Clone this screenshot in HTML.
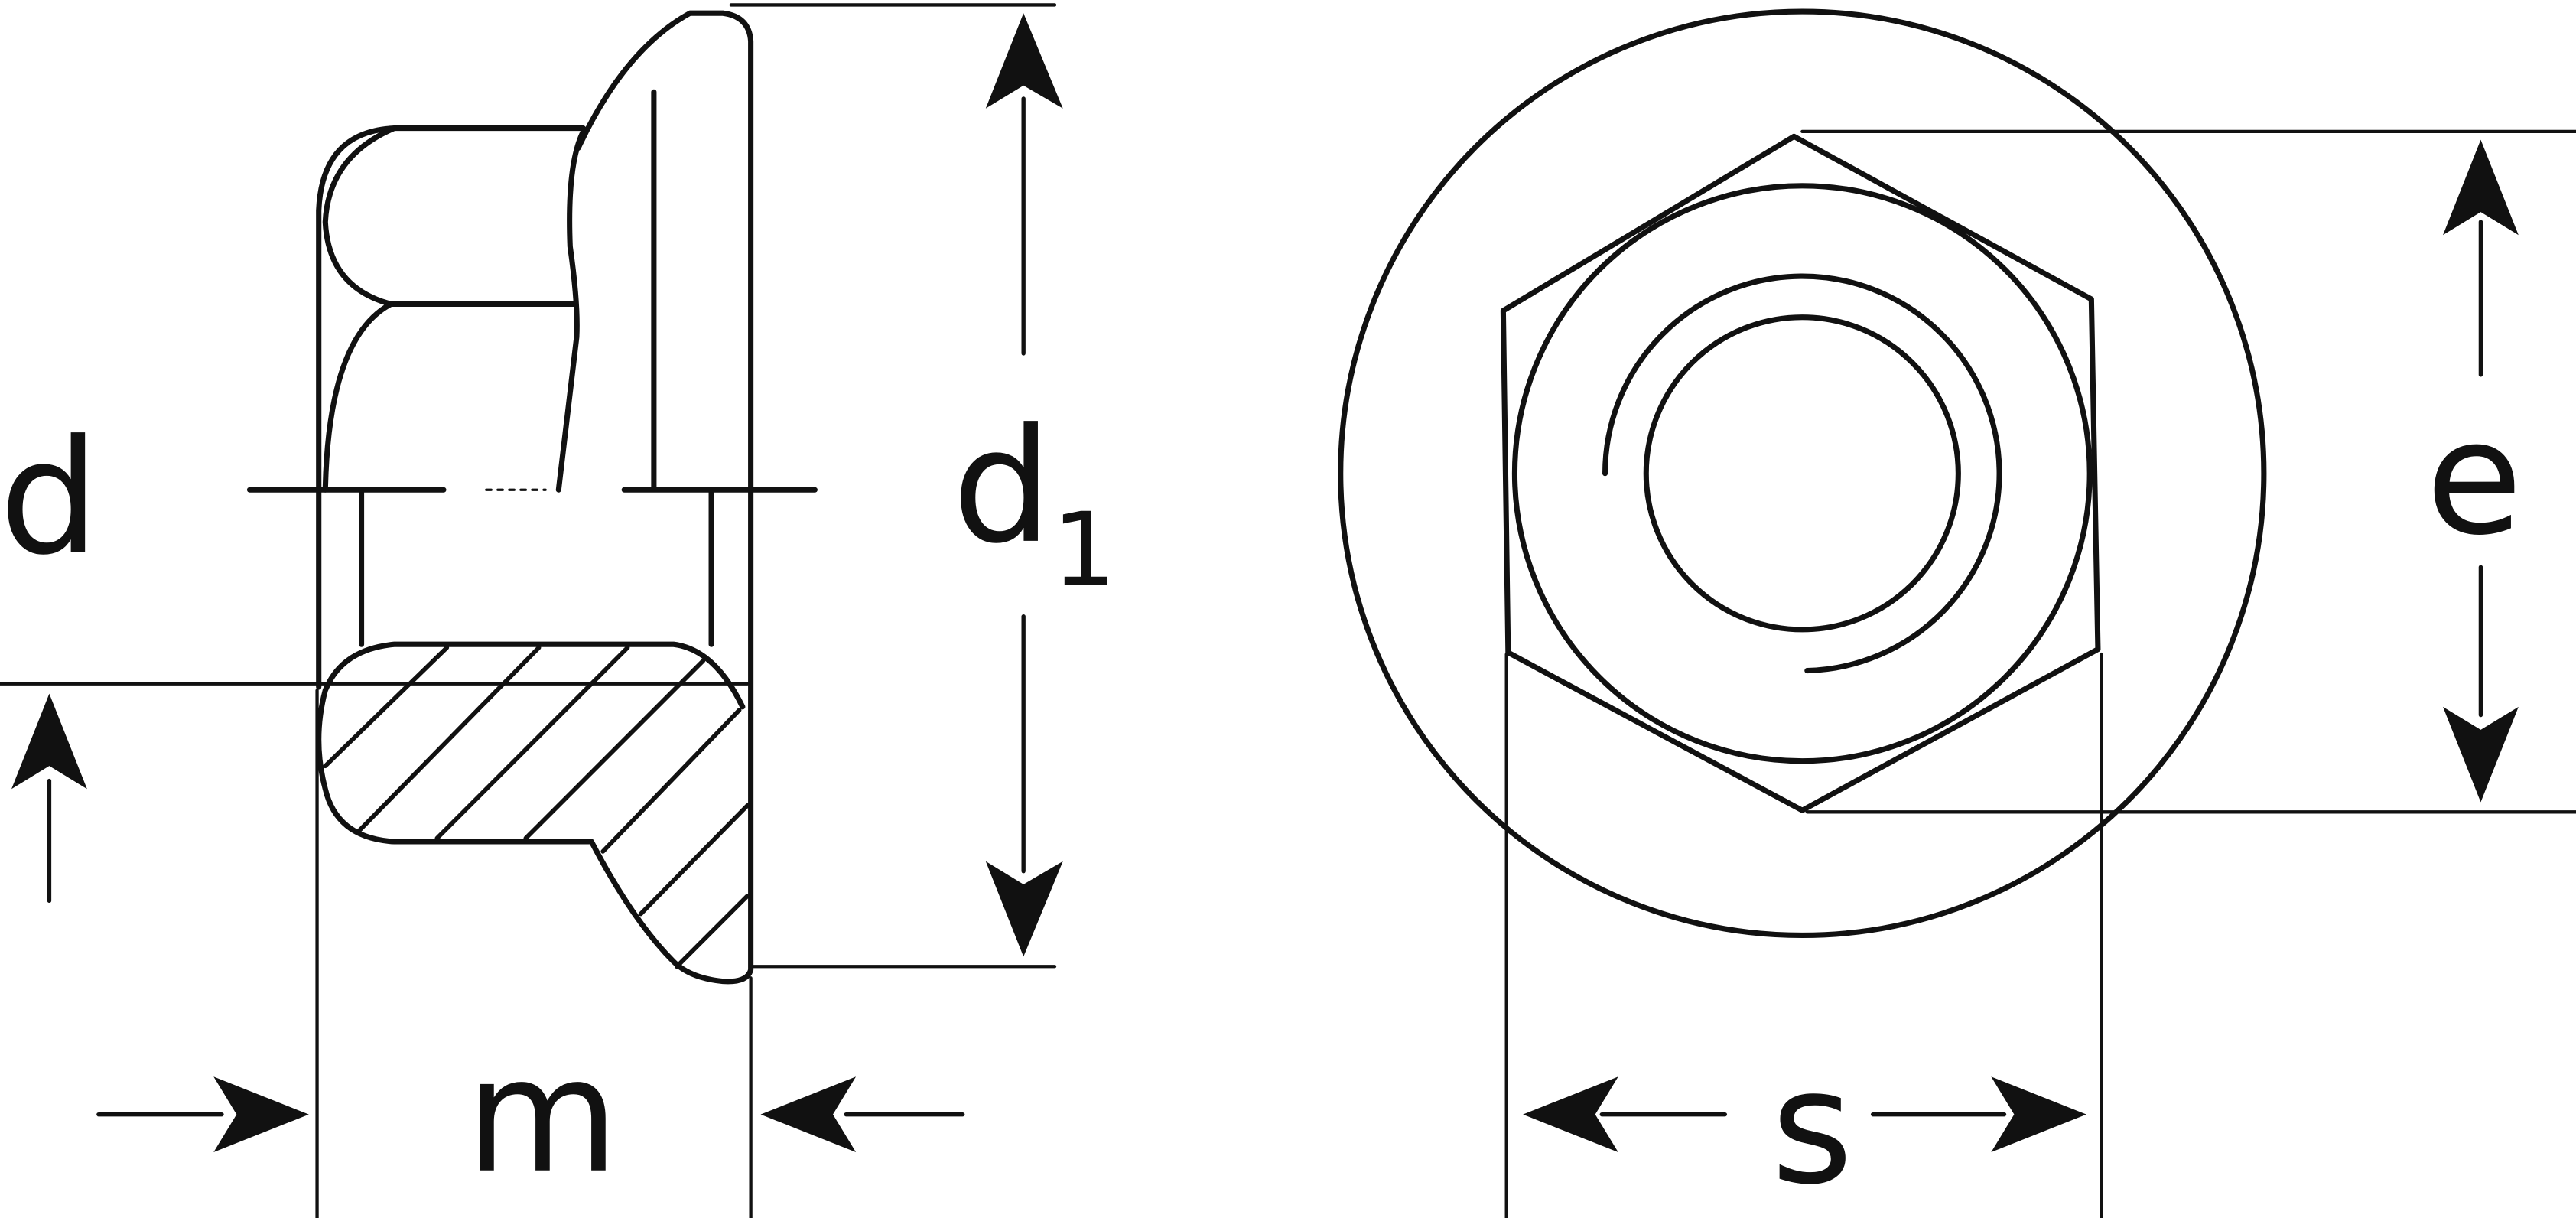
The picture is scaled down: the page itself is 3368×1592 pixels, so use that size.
<!DOCTYPE html>
<html><head><meta charset="utf-8"><style>html,body{margin:0;padding:0;background:#fff}svg{display:block}</style></head>
<body>
<svg width="3368" height="1592" viewBox="0 0 1568 741" preserveAspectRatio="none" xmlns="http://www.w3.org/2000/svg">
<g fill="none" stroke="#111" stroke-width="3.3" stroke-linejoin="round" stroke-linecap="round">
<path d="M355,78 L240,78 Q196,80 194,128 L194,418"/>
<path d="M240,78 Q200,95 198,135 Q200,175 238,185 L350,185"/>
<path d="M238,185 Q200,205 198,298"/>
<path d="M355,80 Q345,100 347,150 Q352,185 351,205 L340,298"/>
<path d="M352,90 Q380,30 420,8 L440,8 Q456,10 457,25 L457,590 Q455,598 440,597 Q420,595 410,585 Q385,560 360,512 L240,512 Q205,510 198,480 Q190,450 198,420 Q208,395 240,392 L410,392 Q435,395 452,430"/>
<line x1="398" y1="56" x2="398" y2="297"/>
<line x1="220" y1="298" x2="220" y2="392"/>
<line x1="433" y1="298" x2="433" y2="392"/>
<line x1="152" y1="298" x2="270" y2="298"/>
<line x1="380" y1="298" x2="496" y2="298"/>
<line x1="296" y1="298" x2="332" y2="298" stroke-width="1.5" stroke-dasharray="3 4"/>
<g stroke-width="2.7">
<line x1="272" y1="394" x2="198" y2="466"/>
<line x1="328" y1="394" x2="218" y2="506"/>
<line x1="382" y1="394" x2="266" y2="510"/>
<line x1="428" y1="402" x2="320" y2="510"/>
<line x1="450" y1="432" x2="367" y2="518"/>
<line x1="455" y1="490" x2="390" y2="556"/>
<line x1="455" y1="545" x2="412" y2="588"/>
</g>
<line x1="445" y1="3" x2="642" y2="3" stroke-width="2"/>
<line x1="458" y1="588" x2="642" y2="588" stroke-width="2"/>
<line x1="623" y1="60" x2="623" y2="215" stroke-width="2.5"/>
<line x1="623" y1="375" x2="623" y2="530" stroke-width="2.5"/>
<line x1="0" y1="416" x2="455" y2="416" stroke-width="2"/>
<line x1="30" y1="475" x2="30" y2="548" stroke-width="2.5"/>
<line x1="193" y1="420" x2="193" y2="741" stroke-width="2"/>
<line x1="457" y1="595" x2="457" y2="741" stroke-width="2"/>
<line x1="60" y1="678" x2="135" y2="678" stroke-width="2.5"/>
<line x1="515" y1="678" x2="586" y2="678" stroke-width="2.5"/>
<circle cx="1097" cy="288" r="281"/>
<path d="M1092,83 L1273,182 L1277,395 L1097,493 L918,397 L915,189 Z"/>
<circle cx="1097" cy="288" r="175"/>
<circle cx="1097" cy="288" r="95"/>
<path d="M977,288 A120,120 0 1 1 1100,408"/>
<line x1="1097" y1="80" x2="1568" y2="80" stroke-width="2"/>
<line x1="1100" y1="494" x2="1568" y2="494" stroke-width="2"/>
<line x1="1510" y1="135" x2="1510" y2="228" stroke-width="2.5"/>
<line x1="1510" y1="345" x2="1510" y2="435" stroke-width="2.5"/>
<line x1="917" y1="398" x2="917" y2="741" stroke-width="2"/>
<line x1="1279" y1="398" x2="1279" y2="741" stroke-width="2"/>
<line x1="975" y1="678" x2="1050" y2="678" stroke-width="2.5"/>
<line x1="1140" y1="678" x2="1220" y2="678" stroke-width="2.5"/>
</g>
<g fill="#111">
<path d="M623,8 L600,66 L623,52 L647,66 Z"/>
<path d="M623,582 L600,524 L623,538 L647,524 Z"/>
<path d="M30,422 L7,480 L30,466 L53,480 Z"/>
<path d="M188,678 L130,655 L144,678 L130,701 Z"/>
<path d="M463,678 L521,655 L507,678 L521,701 Z"/>
<path d="M1510,85 L1487,143 L1510,129 L1533,143 Z"/>
<path d="M1510,488 L1487,430 L1510,444 L1533,430 Z"/>
<path d="M927,678 L985,655 L971,678 L985,701 Z"/>
<path d="M1270,678 L1212,655 L1226,678 L1212,701 Z"/>
</g>
<g font-family="'DejaVu Sans','Liberation Sans',sans-serif" font-size="96" fill="#111">
<text x="30" y="336" text-anchor="middle">d</text>
<text x="610" y="329" text-anchor="middle">d</text>
<text x="660" y="356" font-size="62" text-anchor="middle">1</text>
<text x="1506" y="324" text-anchor="middle">e</text>
<text x="330" y="712" text-anchor="middle">m</text>
<text x="1103" y="719" text-anchor="middle">s</text>
</g>
</svg>
</body></html>
